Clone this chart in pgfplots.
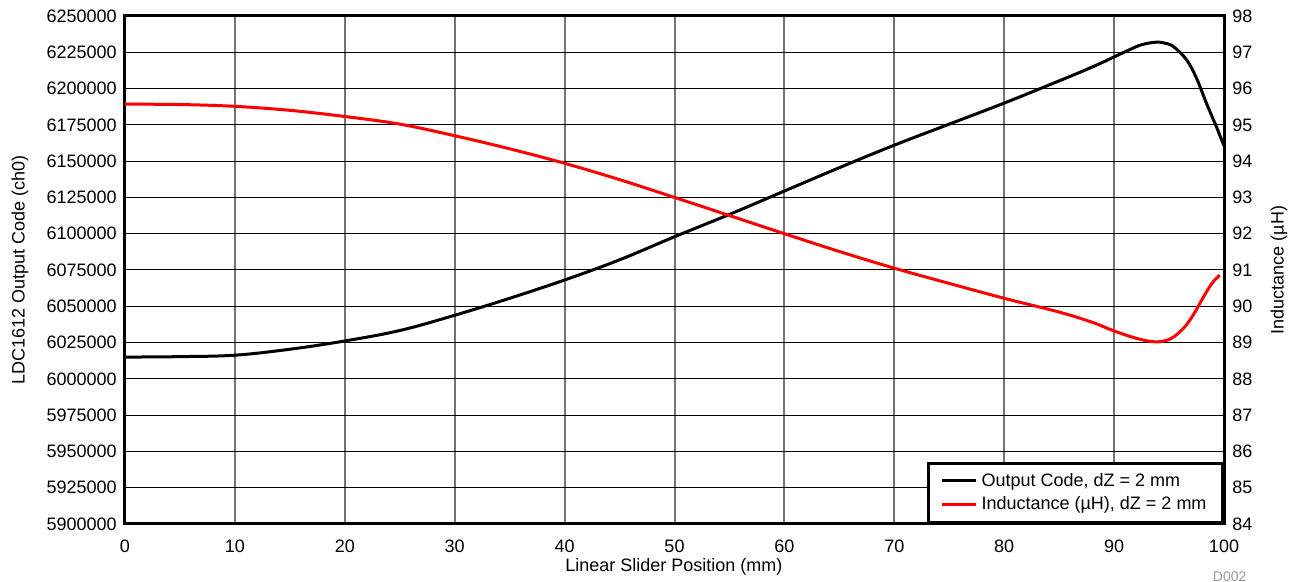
\documentclass[border=0pt]{standalone}
\usepackage{fontspec}
\setmainfont{Liberation Sans}
\usepackage{pgfplots}
\pgfplotsset{compat=1.18}
\pgfplotsset{/pgf/number format/assume math mode=true}

\pgfplotstableread{
x y
0 6015000
5 6015300
10 6016300
15 6020400
20 6026100
25 6033300
30 6043800
35 6055500
40 6068100
45 6082000
50 6097900
55 6113300
60 6129400
65 6145500
70 6161000
75 6175500
80 6190000
85 6205300
88 6214800
90 6221800
91.5 6227100
92.5 6230200
93.7 6231900
94.5 6231500
95.4 6228900
96.6 6219700
97.5 6207100
98.4 6189900
99.3 6173800
100 6160500
}\codedata

\pgfplotstableread{
x y
0 95.57
5 95.56
10 95.51
15 95.40
20 95.23
25 95.02
30 94.70
35 94.34
40 93.94
45 93.49
50 93.0
55 92.50
60 92.0
65 91.51
70 91.05
75 90.63
80 90.22
85 89.84
88 89.56
90 89.32
92 89.12
93.7 89.02
95.1 89.10
96.3 89.39
97.2 89.76
98.1 90.24
98.9 90.63
99.6 90.86
}\inddata

\begin{document}
\fontsize{9pt}{11pt}\selectfont
\begin{tikzpicture}
\pgfplotsset{
  myaxis/.style={
    at={(0,0)}, anchor=south west,
    scale only axis, width=549.5pt, height=254pt,
    xmin=0, xmax=100,
    font=\fontsize{9pt}{11pt}\selectfont,
    major tick length=0pt,
    axis line style={line width=1.5pt},
    tick align=inside,
  }
}
\begin{axis}[
  myaxis,
  ymin=5900000, ymax=6250000,
  xtick={0,10,20,30,40,50,60,70,80,90,100},
  ytick={5900000,5925000,5950000,5975000,6000000,6025000,6050000,6075000,6100000,6125000,6150000,6175000,6200000,6225000,6250000},
  scaled y ticks=false,
  yticklabel style={/pgf/number format/fixed, /pgf/number format/1000 sep={}, /pgf/number format/precision=0, xshift=-1pt},
  xticklabel style={yshift=-5pt},
  xmajorgrids, ymajorgrids,
  x grid style={color=black!55, line width=1pt},
  y grid style={color=black, line width=0.5pt},
  xlabel={Linear Slider Position (mm)},
  ylabel={LDC1612 Output Code (ch0)},
  xlabel style={at={(axis description cs:0.4995,-0.0846)}, anchor=center},
  ylabel style={at={(axis description cs:-0.0955,0.5)}, anchor=center},
]
\addplot[black, line width=1.5pt, smooth, tension=0.6] table[x=x,y=y] {\codedata};
\end{axis}
\begin{axis}[
  myaxis,
  ymin=84, ymax=98,
  ytick={84,85,86,87,88,89,90,91,92,93,94,95,96,97,98},
  axis y line*=right,
  axis x line=none,
  yticklabel style={xshift=1pt},
  ylabel={Inductance (µH)},
  ylabel style={at={(axis description cs:1.05,0.5)}, anchor=center},
  legend style={at={(1,0)}, anchor=south east, draw=black, line width=1.5pt,
    fill=white, inner xsep=6pt, inner ysep=3pt,
    font=\fontsize{9pt}{11pt}\selectfont,
    legend cell align=left, row sep=0pt},
  legend image post style={line width=1.5pt},
]
\addlegendimage{black, line width=1.5pt}
\addlegendentry{Output Code, dZ = 2 mm}
\addplot[red, line width=1.5pt, smooth, tension=0.6] table[x=x,y=y] {\inddata};
\addlegendentry{Inductance (µH), dZ = 2 mm}
\end{axis}
\node[anchor=base east, font=\fontsize{7pt}{8pt}\selectfont, text=black!40] at (563.9pt,-28.6pt) {D002};
\pgfresetboundingbox
\path (-62.5pt,-29pt) rectangle (585.5pt,262pt);
\end{tikzpicture}
\end{document}
